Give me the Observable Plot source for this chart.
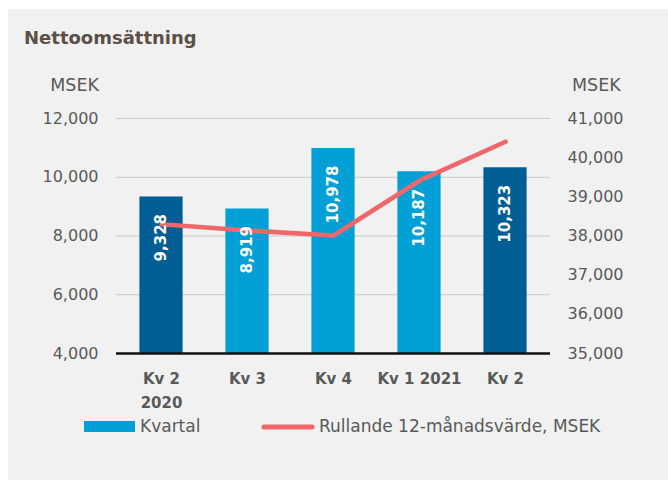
<!DOCTYPE html>
<html>
<head>
<meta charset="utf-8">
<script src="https://cdn.jsdelivr.net/npm/d3@7"></script>
<script src="https://cdn.jsdelivr.net/npm/@observablehq/plot@0.6"></script>
<style>
  html, body { margin: 0; padding: 0; background: #ffffff; }
  #wrap { position: relative; width: 668px; height: 481px; overflow: hidden; }
  #panel { position: absolute; left: 8px; top: 9px; width: 660px; height: 471px; background: #f1f1f1; }
  #chart { position: absolute; left: 0; top: 0; }
</style>
</head>
<body>
<div id="wrap">
  <div id="panel"></div>
  <div id="chart"></div>
</div>
<script>
// ---- data ----
const quarters = ["Kv 2 2020", "Kv 3 2020", "Kv 4 2020", "Kv 1 2021", "Kv 2 2021"];
const tickLabels = ["Kv 2\n2020", "Kv 3", "Kv 4", "Kv 1 2021", "Kv 2"];
const kvartal = [9328, 8919, 10978, 10187, 10323];
const rullande = [38300, 38140, 38013, 39412, 40407];
const leftTicks = [4000, 6000, 8000, 10000, 12000];
const rightTicks = [35000, 36000, 37000, 38000, 39000, 40000, 41000];
const titleText = "Nettoomsättning";
const unitText = "MSEK";
const legendLabels = ["Kvartal", "Rullande 12-månadsvärde, MSEK"];

// ---- helpers ----
const fmt = d3.format(",");
const L0 = 4000, L1 = 12000, R0 = 35000, R1 = 41000;
const toLeft = v => L0 + (v - R0) * (L1 - L0) / (R1 - R0);
const fromLeft = v => R0 + (v - L0) * (R1 - R0) / (L1 - L0);

const DARK = "#005e94", LIGHT = "#009fd6", RED = "#ef676b", TXT = "#595959";

const rows = quarters.map((q, i) => ({q, v: kvartal[i], r: rullande[i], label: tickLabels[i]}));

const chart = Plot.plot({
  width: 668,
  height: 481,
  marginLeft: 116,
  marginRight: 118,
  marginTop: 118,
  marginBottom: 128,
  style: {background: "transparent", fontFamily: "DejaVu Sans", overflow: "visible"},
  x: {domain: quarters, padding: 0, axis: null},
  y: {domain: [L0, L1], axis: null},
  color: {type: "identity"},
  marks: [
    Plot.gridY(leftTicks.slice(1), {stroke: "#c9c9c9", strokeOpacity: 1, strokeWidth: 1.2}),
    Plot.barY(rows, {
      x: "q", y1: L0, y2: "v",
      fill: d => d.q.startsWith("Kv 2") ? DARK : LIGHT,
      insetLeft: 21.4, insetRight: 21.4
    }),
    Plot.ruleY([L0], {stroke: "#111111", strokeWidth: 2.5}),
    Plot.line(rows, {
      x: "q", y: d => toLeft(d.r),
      stroke: RED, strokeWidth: 4.6, strokeLinecap: "round", strokeLinejoin: "round"
    }),
    Plot.text(rows, {
      x: "q", y: "v", text: d => fmt(d.v),
      rotate: -90, textAnchor: "end", lineAnchor: "middle", dy: 17,
      fill: "#ffffff", fontWeight: "bold", fontSize: 15
    }),
    Plot.axisY(leftTicks, {
      anchor: "left", label: null, tickSize: 0, tickPadding: 18,
      tickFormat: fmt, fontSize: 16, fill: TXT
    }),
    Plot.axisY(rightTicks.map(toLeft), {
      anchor: "right", label: null, tickSize: 0, tickPadding: 17,
      tickFormat: d => fmt(Math.round(fromLeft(d))), fontSize: 16, fill: TXT
    }),
    Plot.axisX({
      label: null, tickSize: 0, tickPadding: 14,
      tickFormat: d => tickLabels[quarters.indexOf(d)],
      fontSize: 15, fontWeight: "bold", fill: TXT, lineHeight: 1.56
    })
  ]
});

document.getElementById("chart").appendChild(chart);

// ---- title, units and legend as real text ----
const svg = d3.select(chart);
svg.append("text")
  .attr("x", 24).attr("y", 44).attr("text-anchor", "start")
  .attr("font-family", "DejaVu Sans").attr("font-weight", "bold").attr("font-size", 18)
  .attr("fill", "#5a5048")
  .text(titleText);
svg.append("text")
  .attr("x", 99).attr("y", 91).attr("text-anchor", "end")
  .attr("font-family", "DejaVu Sans").attr("font-size", 17.5).attr("fill", TXT)
  .text(unitText);
svg.append("text")
  .attr("x", 572).attr("y", 91).attr("text-anchor", "start")
  .attr("font-family", "DejaVu Sans").attr("font-size", 17.5).attr("fill", TXT)
  .text(unitText);

const lg = svg.append("g").attr("font-family", "DejaVu Sans").attr("font-size", 17)
  .attr("fill", TXT).attr("text-anchor", "start");
lg.append("rect").attr("x", 84).attr("y", 421).attr("width", 51).attr("height", 11).attr("fill", LIGHT);
lg.append("text").attr("x", 140).attr("y", 432).text(legendLabels[0]);
lg.append("line").attr("x1", 264).attr("x2", 312).attr("y1", 427).attr("y2", 427)
  .attr("stroke", RED).attr("stroke-width", 5).attr("stroke-linecap", "round");
lg.append("text").attr("x", 319).attr("y", 432).text(legendLabels[1]);
</script>
</body>
</html>
